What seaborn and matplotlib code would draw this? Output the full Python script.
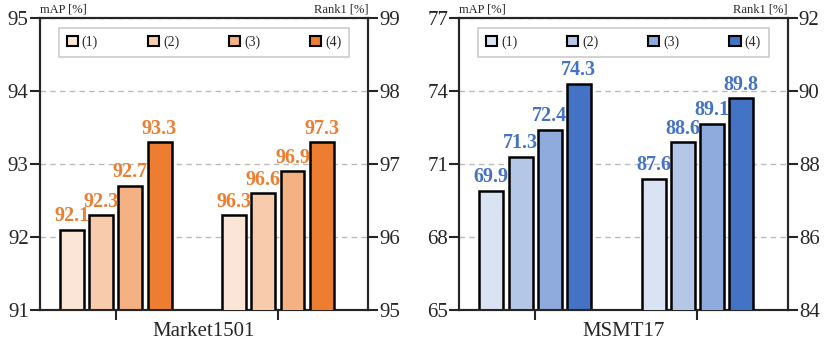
import pandas as pd
import seaborn as sns
import matplotlib.pyplot as plt
from matplotlib.patches import Patch

sns.set_style('ticks')
plt.rcParams['font.family'] = ['Liberation Serif', 'DejaVu Serif']

# data
variants = ['(1)', '(2)', '(3)', '(4)']
groups = ['mAP', 'Rank1']

market_map = [92.1, 92.3, 92.7, 93.3]
market_rank1 = [96.3, 96.6, 96.9, 97.3]
msmt_map = [69.9, 71.3, 72.4, 74.3]
msmt_rank1 = [87.6, 88.6, 89.1, 89.8]

oranges = ['#fbe5d6', '#f8cbad', '#f4b183', '#ed7d31']
blues = ['#dae3f3', '#b4c7e7', '#8faadc', '#4472c4']

panels = [
    dict(name='Market1501', map=market_map, rank1=market_rank1, colors=oranges,
         text_color='#ed7d31', map_ticks=[91, 92, 93, 94, 95], r1_ticks=[95, 96, 97, 98, 99]),
    dict(name='MSMT17', map=msmt_map, rank1=msmt_rank1, colors=blues,
         text_color='#4472c4', map_ticks=[65, 68, 71, 74, 77], r1_ticks=[84, 86, 88, 90, 92]),
]

fig, axes = plt.subplots(1, 2, figsize=(8.3, 3.42), dpi=100)
fig.subplots_adjust(left=0.048, right=0.949, bottom=0.094, top=0.947, wspace=0.277)

for ax, p in zip(axes, panels):
    ax2 = ax.twinx()
    df_map = pd.DataFrame({'group': 'mAP', 'variant': variants, 'value': p['map']})
    df_r1 = pd.DataFrame({'group': 'Rank1', 'variant': variants, 'value': p['rank1']})

    for a, df, ticks in ((ax, df_map, p['map_ticks']), (ax2, df_r1, p['r1_ticks'])):
        sns.barplot(data=df, x='group', y='value', hue='variant', order=groups,
                    hue_order=variants, palette=p['colors'], saturation=1,
                    width=0.72, gap=0.18, edgecolor='black', linewidth=1.8,
                    legend=False, ax=a, zorder=3)
        for c in a.containers:
            a.bar_label(c, fmt='%.1f', padding=2.5, color=p['text_color'],
                        fontsize=14.5, fontweight='bold')
        a.set_ylim(ticks[0], ticks[-1])
        a.set_yticks(ticks)
        a.set_ylabel('')
        a.tick_params(axis='y', direction='out', length=7, width=1.5, labelsize=15, pad=1)
        for s in a.spines.values():
            s.set_linewidth(1.5)
            s.set_visible(True)

    ax.set_axisbelow(True)
    ax.yaxis.grid(True, linestyle=(0, (4, 3)), color='#bbbbbb', linewidth=1)
    ax2.grid(False)

    ax.set_xticks([0, 1])
    ax.set_xticklabels([])
    ax.set_xlim(-0.468, 1.557)
    ax.tick_params(axis='x', direction='out', length=7, width=1.5)
    ax.set_xlabel(p['name'], fontsize=15, labelpad=-2)
    ax2.set_xlabel('')

    ax.text(0, 1.01, 'mAP [%]', transform=ax.transAxes, ha='left', va='bottom', fontsize=9)
    ax.text(1, 1.01, 'Rank1 [%]', transform=ax.transAxes, ha='right', va='bottom', fontsize=9)

    handles = [Patch(facecolor=c, edgecolor='black', linewidth=1.5) for c in p['colors']]
    leg = ax2.legend(handles, variants, ncol=4, loc='upper left', mode='expand',
                     bbox_to_anchor=(0.058, 0.88, 0.884, 0.086), borderaxespad=0,
                     fontsize=10, handlelength=0.8, handleheight=0.8, handletextpad=0.3,
                     borderpad=0.55, fancybox=False, framealpha=1)
    leg.get_frame().set_edgecolor('#cccccc')
    leg.get_frame().set_linewidth(1.2)

fig.savefig('out.png', dpi=100)
